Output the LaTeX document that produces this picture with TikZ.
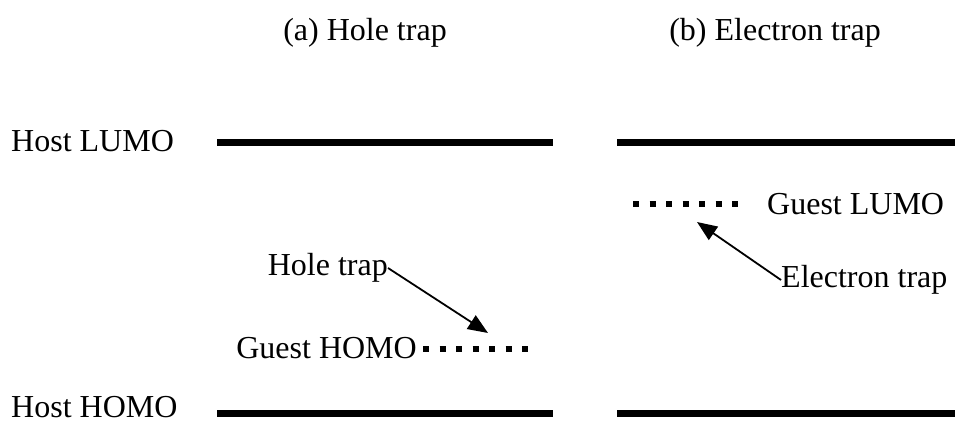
\documentclass[tikz,border=0pt]{standalone}
\usepackage{fontspec}
\setmainfont{Liberation Serif}
\usetikzlibrary{arrows.meta}
\begin{document}
\begin{tikzpicture}[x=1pt,y=-1pt,
  lbl/.style={font=\fontsize{32}{36}\selectfont, inner sep=0pt},
  level/.style={line width=7pt},
  guest/.style={line width=6pt, dash pattern=on 6pt off 10.5pt},
  trap/.style={line width=1.8pt, -{Triangle[length=20pt,width=16pt]}}]
\useasboundingbox (0,0) rectangle (955,423);
% panel titles
\node[lbl] (ta) at (365,33) {(a) Hole trap};
\node[lbl] (tb) at (775,33) {(b) Electron trap};
% host levels
\node[lbl, anchor=west] (hl) at (11,141) {Host LUMO};
\node[lbl, anchor=west] (hh) at (11,407) {Host HOMO};
\coordinate (la1) at (217,142); \coordinate (la2) at (553,142);
\coordinate (lb1) at (617,142); \coordinate (lb2) at (955,142);
\coordinate (ha1) at (217,413); \coordinate (ha2) at (553,413);
\coordinate (hb1) at (617,413); \coordinate (hb2) at (955,413);
\draw[level] (la1) -- (la2);
\draw[level] (lb1) -- (lb2);
\draw[level] (ha1) -- (ha2);
\draw[level] (hb1) -- (hb2);
% guest levels
\coordinate (gh1) at (423,349); \coordinate (gh2) at (530,349);
\coordinate (gl1) at (633,204); \coordinate (gl2) at (740,204);
\draw[guest] (gh1) -- (gh2);
\draw[guest] (gl1) -- (gl2);
\node[lbl, anchor=east] (gho) at (417,348) {Guest HOMO};
\node[lbl, anchor=west] (glu) at (767,204) {Guest LUMO};
% traps
\node[lbl, anchor=east] (ht) at (388,268) {Hole trap};
\node[lbl, anchor=west] (et) at (781,280) {Electron trap};
\coordinate (hta) at (488,333);
\coordinate (eta) at (697,222);
\draw[trap] (ht.east) -- (hta);
\draw[trap] (et.west) -- (eta);
\end{tikzpicture}
\end{document}
